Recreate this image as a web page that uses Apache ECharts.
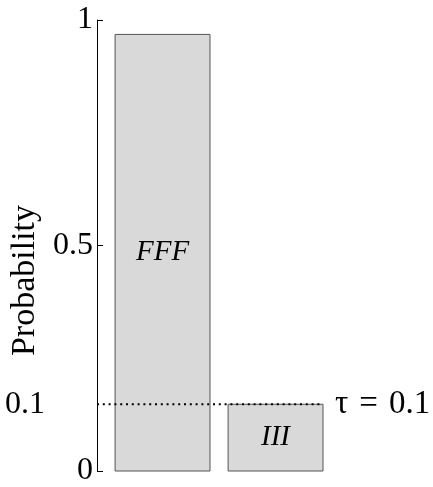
<!DOCTYPE html>
<html>
<head>
<meta charset="utf-8">
<script src="https://cdn.jsdelivr.net/npm/echarts@6/dist/echarts.min.js"></script>
<style>html,body{margin:0;padding:0;background:#fff}#c{width:433px;height:487px}</style>
</head>
<body>
<div id="c"></div>
<script>
const categories = ['FFF', 'III'];
const barEnds = [1, 2];            // x position of each bar's right edge
const values = [0.968, 0.148];
const tauValue = 0.148;
const tauTickLabel = '0.1';
const tauText = 'τ\u2004=\u20040.1';
const yTicks = [0, 0.5, 1];
const xLineRange = [0, 2];

const FONT = '"Liberation Serif", serif';
const barSpan = 0.84;

const chart = echarts.init(document.getElementById('c'), null, {renderer: 'canvas'});
chart.setOption({
  backgroundColor: '#fff',
  animation: false,
  textStyle: {fontFamily: FONT, color: '#000'},
  grid: {left: 97, top: 20, width: 226, height: 452},
  xAxis: {type: 'value', min: 0, max: 2, show: false},
  yAxis: [{
    type: 'value', min: 0, max: 1,
    name: 'Probability', nameLocation: 'middle', nameGap: 48,
    nameTextStyle: {fontFamily: FONT, fontSize: 34, color: '#000', padding: [0, 70, 0, 0]},
    axisLine: {show: true, lineStyle: {color: '#000', width: 1}},
    axisTick: {show: true, inside: true, length: 6, customValues: yTicks, lineStyle: {color: '#000'}},
    axisLabel: {customValues: yTicks, margin: 4, fontFamily: FONT, fontSize: 32, color: '#000',
      formatter: v => String(v)},
    splitLine: {show: false}
  }, {
    type: 'value', min: 0, max: 1, position: 'left',
    axisLine: {show: false}, axisTick: {show: false}, splitLine: {show: false},
    axisLabel: {customValues: [tauValue], margin: 52, fontFamily: FONT, fontSize: 32, color: '#000',
      formatter: () => tauTickLabel}
  }],
  series: [{
    type: 'custom',
    data: categories.map((c, i) => [barEnds[i], values[i], c]),
    z: 2,
    renderItem: (params, api) => {
      const x = api.value(0), y = api.value(1);
      const p0 = api.coord([x - barSpan, y]);
      const p1 = api.coord([x, 0]);
      return {
        type: 'rect',
        shape: {x: p0[0], y: p0[1], width: p1[0] - p0[0], height: p1[1] - p0[1]},
        style: {fill: '#d9d9d9', stroke: '#555', lineWidth: 1},
        textContent: {style: {text: categories[params.dataIndex], fontFamily: FONT, fontStyle: 'italic', fontSize: 29, fill: '#000'}},
        textConfig: {position: 'inside'}
      };
    }
  }, {
    type: 'line',
    z: 5,
    data: [[xLineRange[0], tauValue], [xLineRange[1], tauValue]],
    symbol: 'none',
    lineStyle: {color: '#000', width: 2, type: [2, 3.8]},
    endLabel: {show: true, formatter: () => tauText, distance: 12, fontFamily: FONT, fontSize: 33, color: '#000'}
  }]
});
</script>
</body>
</html>
